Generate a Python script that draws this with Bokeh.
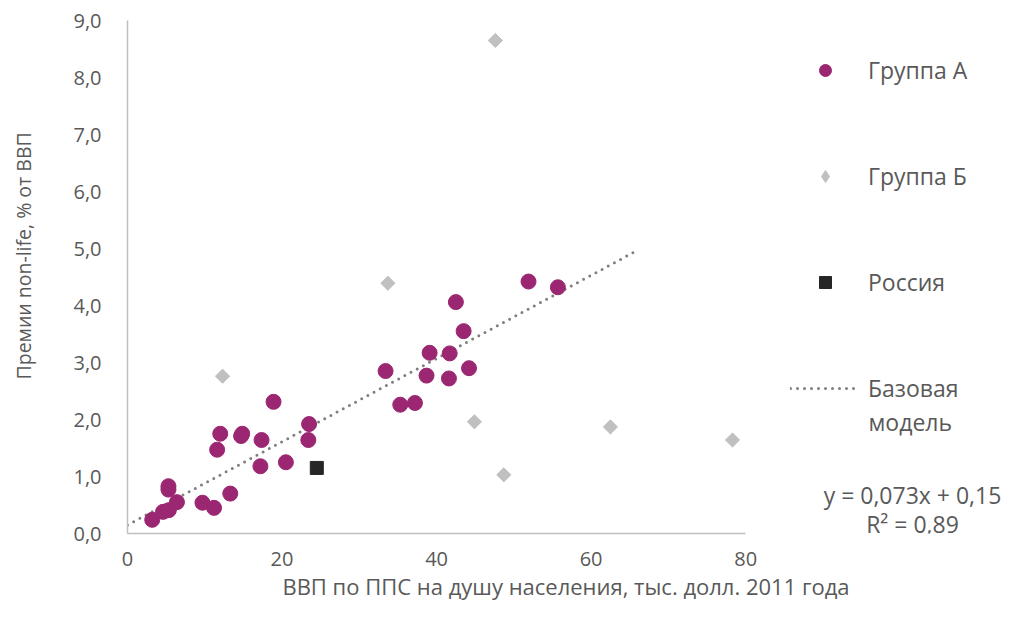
import math
from bokeh.plotting import figure
from bokeh.models import Legend, LegendItem, Label, FixedTicker, Range1d, Title
from bokeh.embed import file_html
from bokeh.resources import INLINE

# Group A (x: GDP PPP per capita, th. 2011 USD; y: non-life premiums, % of GDP)
group_a_x = [3.2, 4.6, 5.35, 5.3, 5.3, 6.4, 9.7, 11.2, 13.3, 11.6, 12.0, 14.85, 14.7,
             17.35, 17.2, 18.9, 20.5, 23.5, 23.4, 33.4, 35.3, 37.2, 39.1, 38.7,
             41.7, 41.6, 42.5, 43.5, 44.2, 51.9, 55.7]
group_a_y = [0.24, 0.38, 0.41, 0.83, 0.77, 0.55, 0.54, 0.45, 0.70, 1.47, 1.75, 1.75, 1.71,
             1.64, 1.18, 2.31, 1.25, 1.92, 1.64, 2.85, 2.26, 2.29, 3.17, 2.77,
             3.16, 2.72, 4.06, 3.55, 2.90, 4.42, 4.32]

# Group B
group_b_x = [12.3, 33.7, 47.6, 44.9, 48.7, 62.5, 78.3]
group_b_y = [2.76, 4.39, 8.65, 1.96, 1.03, 1.87, 1.64]

# Russia
russia_x = [24.5]
russia_y = [1.15]

# Base model: y = 0.073x + 0.15
trend_slope = 0.073
trend_intercept = 0.15
trend_x = [0, 65.5]
trend_y = [trend_intercept + trend_slope * v for v in trend_x]

x_ticks = [0, 20, 40, 60, 80]
y_ticks = [0, 1, 2, 3, 4, 5, 6, 7, 8, 9]
y_tick_labels = ["0,0", "1,0", "2,0", "3,0", "4,0", "5,0", "6,0", "7,0", "8,0", "9,0"]

legend_labels = ["Группа А", "Группа Б", "Россия", "Базовая"]
legend_label_2nd_line = "модель"
equation_text = "y = 0,073x + 0,15"
r2_text = "R² = 0,89"
x_title = "ВВП по ППС на душу населения, тыс. долл. 2011 года"
y_title = "Премии non-life, % от ВВП"

FONT = "Open Sans"
TEXT_COLOR = "#595959"
AXIS_COLOR = "#BFBFBF"
GROUP_B_COLOR = "#C0C0C0"

p = figure(width=1004, height=603, output_backend="svg", toolbar_location=None,
           x_range=Range1d(0, 113.5), y_range=Range1d(0, 9),
           min_border_left=127, min_border_right=0, min_border_top=20, min_border_bottom=66)
p.outline_line_color = None
p.grid.visible = False
p.background_fill_color = "white"
p.border_fill_color = "white"

for ax in (p.xaxis[0], p.yaxis[0]):
    ax.axis_line_color = AXIS_COLOR
    ax.axis_line_width = 1.5
    ax.major_tick_line_color = None
    ax.minor_tick_line_color = None
    ax.major_tick_in = 0
    ax.major_tick_out = 0
    ax.minor_tick_in = 0
    ax.minor_tick_out = 0
    ax.major_label_text_font = FONT
    ax.major_label_text_font_size = "20px"
    ax.major_label_text_color = TEXT_COLOR
    ax.axis_label_text_font = FONT
    ax.axis_label_text_color = TEXT_COLOR
    ax.axis_label_text_font_style = "normal"

p.xaxis.ticker = FixedTicker(ticks=x_ticks)
p.xaxis.bounds = (0, 80)
p.yaxis.ticker = FixedTicker(ticks=y_ticks)
p.yaxis.bounds = (0, 9)
p.yaxis.major_label_overrides = {t: l for t, l in zip(y_ticks, y_tick_labels)}
p.xaxis.major_label_standoff = 18
p.yaxis.major_label_standoff = 26
p.xaxis.axis_label = x_title
p.xaxis.axis_label_text_font_size = "22px"
p.xaxis.axis_label_standoff = 2
# blank label only reserves room so that the title below sits further left
p.yaxis.axis_label = " "
p.yaxis.axis_label_text_font_size = "20px"
p.yaxis.axis_label_standoff = 4

# y title as a left-side Title, shifted upward like the reference
p.add_layout(Title(text=y_title, align="left", offset=154, standoff=0,
                   text_font=FONT, text_font_size="19.5px", text_font_style="normal",
                   text_color=TEXT_COLOR), "left")

r_trend = p.line(trend_x, trend_y, line_color="#7F7F7F", line_width=3,
                 line_dash="0 7", line_cap="round")
# narrow diamond underneath (fully covered) provides the legend glyph for group B
r_b_leg = p.scatter(group_b_x, group_b_y, marker="diamond", size=13,
                    fill_color=GROUP_B_COLOR, line_color=GROUP_B_COLOR)
r_b = p.scatter(group_b_x, group_b_y, marker="square", size=10, angle=math.pi / 4,
                fill_color=GROUP_B_COLOR, line_color=GROUP_B_COLOR)
r_a = p.scatter(group_a_x, group_a_y, marker="circle", size=15,
                fill_color="#9B2671", line_color="#9B2671")
r_r = p.scatter(russia_x, russia_y, marker="square", size=13,
                fill_color="#262626", line_color="#262626")

legend = Legend(items=[
    LegendItem(label=legend_labels[0], renderers=[r_a]),
    LegendItem(label=legend_labels[1], renderers=[r_b_leg]),
    LegendItem(label=legend_labels[2], renderers=[r_r]),
    LegendItem(label=legend_labels[3], renderers=[r_trend]),
], location=(663, 129))
legend.border_line_color = None
legend.background_fill_alpha = 0
legend.label_text_font = FONT
legend.label_text_font_size = "23px"
legend.label_text_color = TEXT_COLOR
legend.glyph_width = 70
legend.glyph_height = 30
legend.label_height = 30
legend.label_standoff = 8
legend.spacing = 74
legend.padding = 0
legend.margin = 0
p.add_layout(legend, "center")

p.add_layout(Label(x=741, y=112, x_units="screen", y_units="screen", text=legend_label_2nd_line,
                   text_align="left", text_baseline="middle", text_font=FONT,
                   text_font_size="23px", text_color=TEXT_COLOR))
p.add_layout(Label(x=785, y=39, x_units="screen", y_units="screen", text=equation_text,
                   text_align="center", text_baseline="middle", text_font=FONT,
                   text_font_size="23px", text_color=TEXT_COLOR))
p.add_layout(Label(x=785, y=10, x_units="screen", y_units="screen", text=r2_text,
                   text_align="center", text_baseline="middle", text_font=FONT,
                   text_font_size="23px", text_color=TEXT_COLOR))

open("out.html", "w").write(file_html(p, INLINE))
